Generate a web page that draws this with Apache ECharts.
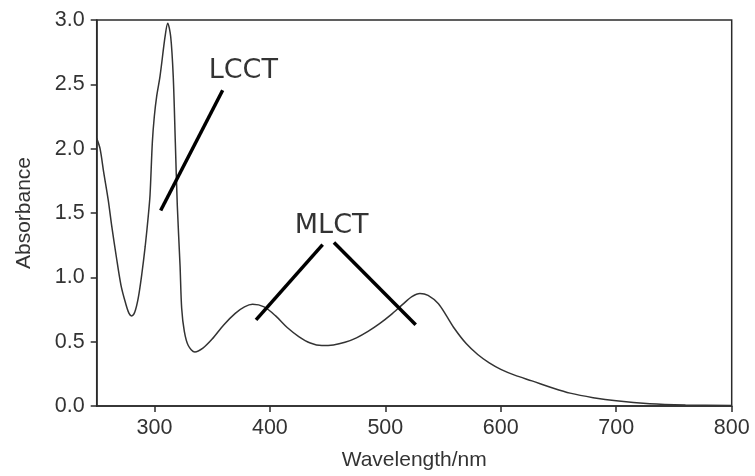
<!DOCTYPE html>
<html>
<head>
<meta charset="utf-8">
<script src="https://cdn.jsdelivr.net/npm/echarts@6/dist/echarts.min.js"></script>
<style>html,body{margin:0;padding:0;background:#fff}#c{width:755px;height:476px}</style>
</head>
<body>
<div id="c"></div>
<script>
// Wavelength (nm) and absorbance
const wavelength = [250, 252.9, 256, 260, 263, 267, 271, 275, 278, 280.3, 283, 286, 289, 292, 294.7, 296.2, 298.2, 299.9, 302.0, 304.8, 309.2, 311.5, 314.1, 316.3, 318.1, 319.8, 322.2, 323.6, 325.9, 329.3, 335, 342, 350, 360, 370, 378, 385, 395, 405, 415, 425, 435, 445, 455, 465, 475, 485, 495, 505, 515, 523, 530, 537, 546, 553, 560, 570, 580, 590, 600, 612, 627, 645, 660, 680, 700, 729, 760, 800];
const absorbance = [2.08, 2.0, 1.82, 1.60, 1.40, 1.16, 0.94, 0.80, 0.72, 0.70, 0.73, 0.84, 1.02, 1.24, 1.48, 1.64, 2.05, 2.25, 2.41, 2.56, 2.87, 2.975, 2.87, 2.56, 2.05, 1.56, 1.09, 0.76, 0.58, 0.47, 0.42, 0.45, 0.52, 0.63, 0.72, 0.77, 0.79, 0.77, 0.70, 0.61, 0.54, 0.49, 0.47, 0.475, 0.495, 0.53, 0.58, 0.64, 0.71, 0.79, 0.85, 0.875, 0.86, 0.795, 0.70, 0.60, 0.485, 0.40, 0.335, 0.285, 0.24, 0.195, 0.14, 0.10, 0.065, 0.04, 0.018, 0.008, 0.003];

const xTickLabels = [300, 400, 500, 600, 700, 800];
const yTickLabels = [0, 0.5, 1.0, 1.5, 2.0, 2.5, 3.0];

// Annotation pointer lines in data coordinates: [x1, y1, x2, y2]
const annotationLines = [
  [305.4, 1.519, 359.1, 2.454],
  [388.0, 0.669, 445.7, 1.254],
  [455.5, 1.270, 526.3, 0.631]
];
// Annotation texts with their centre positions in data coordinates
const annotationNames = ['LCCT', 'MLCT'];
const annotationX = [377.0, 453.5];
const annotationY = [2.60, 1.40];

const chart = echarts.init(document.getElementById('c'), null, {renderer: 'canvas'});
const axisColor = '#2b2b2b';
const labelFont = 'Liberation Sans, Arial, sans-serif';

chart.setOption({
  backgroundColor: '#ffffff',
  animation: false,
  grid: {
    left: 96.7, right: 23.3, top: 20, bottom: 67.7,
    show: true, borderColor: axisColor, borderWidth: 1.5, backgroundColor: 'transparent'
  },
  xAxis: {
    type: 'value', min: 250, max: 800,
    name: 'Wavelength/nm', nameLocation: 'middle', nameGap: 44,
    nameTextStyle: {fontFamily: labelFont, fontSize: 21, color: '#333'},
    axisLine: {show: true, lineStyle: {color: axisColor, width: 1.5}},
    axisTick: {show: true, length: 6, inside: false, lineStyle: {color: axisColor, width: 1.5}, customValues: xTickLabels},
    axisLabel: {customValues: xTickLabels, fontFamily: labelFont, fontSize: 21.5, color: '#333', margin: 11},
    splitLine: {show: false}
  },
  yAxis: {
    type: 'value', min: 0, max: 3, interval: 0.5,
    name: 'Absorbance', nameLocation: 'middle', nameGap: 62, nameRotate: 90,
    nameTextStyle: {fontFamily: labelFont, fontSize: 21, color: '#333'},
    axisLine: {show: true, lineStyle: {color: axisColor, width: 1.5}},
    axisTick: {show: true, length: 6, inside: false, lineStyle: {color: axisColor, width: 1.5}, customValues: yTickLabels},
    axisLabel: {customValues: yTickLabels, fontFamily: labelFont, fontSize: 21.5, color: '#333', margin: 12,
      formatter: v => Number(v).toFixed(1)},
    splitLine: {show: false}
  },
  series: [
    {
      type: 'line',
      data: wavelength.map((w, i) => [w, absorbance[i]]),
      showSymbol: false, symbol: 'none',
      smooth: 0.3,
      lineStyle: {color: '#333', width: 1.5},
      z: 3,
      markLine: {
        silent: true, symbol: ['none', 'none'],
        lineStyle: {color: '#000', width: 3.5, type: 'solid'},
        label: {show: false},
        data: annotationLines.map(l => [{coord: [l[0], l[1]]}, {coord: [l[2], l[3]]}])
      }
    },
    {
      type: 'scatter',
      data: annotationNames.map((n, i) => ({value: [annotationX[i], annotationY[i]], name: n})),
      symbolSize: 0,
      silent: true,
      label: {
        show: true, position: 'inside', formatter: p => p.name,
        fontFamily: 'DejaVu Sans', fontSize: 27, color: '#000'
      },
      z: 5
    }
  ]
});
</script>
</body>
</html>
